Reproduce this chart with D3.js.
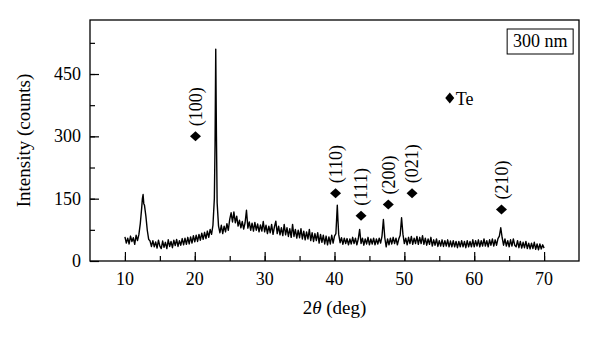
<!DOCTYPE html>
<html>
<head>
<meta charset="utf-8">
<script src="https://cdn.jsdelivr.net/npm/d3@7"></script>
<style>
  body { margin: 0; background: #fff; }
  text { font-family: "Liberation Serif", "Times New Roman", serif; fill: #000; }
</style>
</head>
<body>
<div id="chart"></div>
<script>
// XRD pattern, [2theta, intensity]
const pattern = [
  [10.0,58],[10.2,43],[10.4,55],[10.6,41],[10.8,60],[11.0,47],[11.2,56],[11.4,40],[11.6,62],[11.8,49],
  [12.0,64],[12.2,90],[12.4,128],[12.5,150],[12.6,160],[12.7,138],[12.8,134],[13.0,108],[13.2,74],[13.4,52],
  [13.6,48],[13.8,35],[14.0,49],[14.2,34],[14.4,46],[14.6,31],[14.8,50],[15.0,36],[15.2,30],[15.4,48],
  [15.6,33],[15.8,45],[16.0,30],[16.2,51],[16.4,35],[16.6,47],[16.8,32],[17.0,50],[17.2,37],[17.4,52],
  [17.6,35],[17.8,49],[18.0,38],[18.2,54],[18.4,39],[18.6,55],[18.8,40],[19.0,57],[19.2,41],[19.4,58],
  [19.6,43],[19.8,61],[20.0,46],[20.2,62],[20.4,47],[20.6,64],[20.8,50],[21.0,67],[21.2,52],[21.4,69],
  [21.6,54],[21.8,72],[22.0,57],[22.2,76],[22.4,64],[22.6,86],[22.8,150],[22.9,280],[23.0,510],[23.1,300],
  [23.2,140],[23.4,84],[23.6,68],[23.8,86],[24.0,66],[24.2,84],[24.4,70],[24.6,90],[24.8,74],[25.0,100],
  [25.2,116],[25.4,94],[25.6,118],[25.8,92],[26.0,108],[26.2,84],[26.4,98],[26.6,80],[26.8,95],[27.0,77],
  [27.2,92],[27.4,122],[27.6,79],[27.8,94],[28.0,74],[28.2,91],[28.4,72],[28.6,93],[28.8,74],[29.0,89],
  [29.2,70],[29.4,87],[29.6,72],[29.8,95],[30.0,70],[30.2,86],[30.4,66],[30.6,84],[30.8,68],[31.0,88],
  [31.2,64],[31.4,82],[31.6,96],[31.8,66],[32.0,84],[32.2,63],[32.4,80],[32.6,61],[32.8,88],[33.0,63],
  [33.2,80],[33.4,59],[33.6,78],[33.8,57],[34.0,88],[34.2,59],[34.4,76],[34.6,55],[34.8,74],[35.0,56],
  [35.2,78],[35.4,53],[35.6,72],[35.8,51],[36.0,70],[36.2,53],[36.4,76],[36.6,49],[36.8,68],[37.0,47],
  [37.2,66],[37.4,49],[37.6,68],[37.8,43],[38.0,64],[38.2,45],[38.4,62],[38.6,41],[38.8,60],[39.0,39],
  [39.2,58],[39.4,41],[39.6,62],[39.8,43],[40.0,60],[40.2,66],[40.3,100],[40.4,134],[40.5,96],[40.6,64],
  [40.8,44],[41.0,56],[41.2,40],[41.4,55],[41.6,42],[41.8,54],[42.0,39],[42.2,53],[42.4,41],[42.6,57],
  [42.8,42],[43.0,55],[43.2,39],[43.4,53],[43.6,76],[43.8,42],[44.0,55],[44.2,38],[44.4,53],[44.6,41],
  [44.8,57],[45.0,39],[45.2,53],[45.4,41],[45.6,55],[45.8,39],[46.0,53],[46.2,41],[46.4,55],[46.6,43],
  [46.8,60],[47.0,100],[47.2,56],[47.4,34],[47.6,53],[47.8,39],[48.0,55],[48.2,41],[48.4,57],[48.6,42],
  [48.8,55],[49.0,39],[49.2,53],[49.4,62],[49.6,104],[49.8,64],[50.0,42],[50.2,55],[50.4,39],[50.6,57],
  [50.8,42],[51.0,59],[51.2,40],[51.4,55],[51.6,42],[51.8,59],[52.0,40],[52.2,57],[52.4,42],[52.6,61],
  [52.8,40],[53.0,55],[53.2,38],[53.4,53],[53.6,40],[53.8,57],[54.0,36],[54.2,51],[54.4,38],[54.6,53],
  [54.8,35],[55.0,49],[55.2,36],[55.4,51],[55.6,35],[55.8,49],[56.0,36],[56.2,51],[56.4,34],[56.6,48],
  [56.8,34],[57.0,49],[57.2,34],[57.4,47],[57.6,32],[57.8,47],[58.0,34],[58.2,49],[58.4,34],[58.6,47],
  [58.8,32],[59.0,49],[59.2,34],[59.4,47],[59.6,34],[59.8,51],[60.0,34],[60.2,49],[60.4,36],[60.6,51],
  [60.8,34],[61.0,49],[61.2,36],[61.4,53],[61.6,36],[61.8,49],[62.0,34],[62.2,51],[62.4,38],[62.6,53],
  [62.8,36],[63.0,51],[63.2,38],[63.4,54],[63.6,60],[63.8,80],[64.0,56],[64.2,38],[64.4,53],[64.6,36],
  [64.8,49],[65.0,34],[65.2,51],[65.4,36],[65.6,53],[65.8,38],[66.0,34],[66.2,49],[66.4,32],[66.6,47],
  [66.8,31],[67.0,45],[67.2,32],[67.4,47],[67.6,30],[67.8,43],[68.0,29],[68.2,43],[68.4,30],[68.6,45],
  [68.8,28],[69.0,41],[69.2,27],[69.4,41],[69.6,29],[69.8,39],[70.0,31]
];

// Te reflections
const hklLabels = ["(100)", "(110)", "(111)", "(200)", "(021)", "(210)"];
const hklAngle  = [20.1, 40.15, 43.8, 47.7, 51.1, 63.9];
const hklLevel  = [300, 163, 109, 136, 163, 124];

const xTicks = [10, 20, 30, 40, 50, 60, 70];
const yTicks = [0, 150, 300, 450];

const totalW = 600, totalH = 344;
const margin = {top: 20, right: 21, bottom: 83, left: 90};
const width = totalW - margin.left - margin.right;
const height = totalH - margin.top - margin.bottom;

const svgRoot = d3.select("#chart").append("svg")
    .attr("width", totalW)
    .attr("height", totalH);

const svg = svgRoot.append("g")
    .attr("transform", `translate(${margin.left}, ${margin.top})`);

const x = d3.scaleLinear().domain([5, 75]).range([0, width]);
const y = d3.scaleLinear().domain([0, 580]).range([height, 0]);

// minor ticks (inside)
svg.append("g")
    .attr("transform", `translate(0, ${height})`)
    .call(d3.axisTop(x).tickValues(d3.range(10, 75, 5)).tickSize(5).tickFormat(""))
    .call(g => g.select(".domain").remove());
svg.append("g")
    .call(d3.axisRight(y).tickValues(d3.range(75, 580, 75)).tickSize(5).tickFormat(""))
    .call(g => g.select(".domain").remove());

// major ticks (inside)
svg.append("g")
    .attr("transform", `translate(0, ${height})`)
    .call(d3.axisTop(x).tickValues(xTicks).tickSize(9).tickFormat(""))
    .call(g => g.select(".domain").remove());
svg.append("g")
    .call(d3.axisRight(y).tickValues(yTicks).tickSize(9).tickFormat(""))
    .call(g => g.select(".domain").remove());

svg.selectAll(".tick line").attr("stroke", "#000").attr("stroke-width", 1.2);

svg.selectAll(".xlab")
    .data(xTicks)
    .enter().append("text")
    .attr("x", d => x(d))
    .attr("y", height + 24)
    .attr("text-anchor", "middle")
    .attr("font-size", "18px")
    .text(d => d);

svg.selectAll(".ylab")
    .data(yTicks)
    .enter().append("text")
    .attr("x", -9)
    .attr("y", d => y(d))
    .attr("dy", "0.34em")
    .attr("text-anchor", "end")
    .attr("font-size", "18px")
    .text(d => d);

// frame
svg.append("rect")
    .attr("width", width)
    .attr("height", height)
    .attr("fill", "none")
    .attr("stroke", "#000")
    .attr("stroke-width", 1.3);

// data line
svg.append("path")
    .datum(pattern)
    .attr("fill", "none")
    .attr("stroke", "#000")
    .attr("stroke-width", 1.4)
    .attr("stroke-linejoin", "round")
    .attr("d", d3.line().x(d => x(d[0])).y(d => y(d[1])));

// diamond marker
const diamond = (w, h) => `M0,${-h}L${w},0L0,${h}L${-w},0Z`;

svg.selectAll(".hkl-mark")
    .data(hklAngle)
    .enter().append("path")
    .attr("d", diamond(5.5, 5))
    .attr("transform", (d, i) => `translate(${x(d)}, ${y(hklLevel[i])})`)
    .attr("fill", "#000");

svg.selectAll(".hkl-text")
    .data(hklLabels)
    .enter().append("text")
    .attr("transform", (d, i) => `translate(${x(hklAngle[i])}, ${y(hklLevel[i]) - 10}) rotate(-90)`)
    .attr("dy", "0.35em")
    .attr("font-size", "18px")
    .text(d => d);

// legend
svg.append("path")
    .attr("d", diamond(4.5, 5.5))
    .attr("transform", `translate(${x(56.5)}, ${y(392)})`)
    .attr("fill", "#000");
svg.append("text")
    .attr("x", x(56.5) + 6)
    .attr("y", y(392))
    .attr("dy", "0.36em")
    .attr("font-size", "18px")
    .text("Te");

// sample box
const boxX = x(71.8) + 4.5, boxY = 9;
svg.append("rect")
    .attr("x", boxX - 54)
    .attr("y", boxY)
    .attr("width", 66)
    .attr("height", 25)
    .attr("fill", "none")
    .attr("stroke", "#000")
    .attr("stroke-width", 1);
svg.append("text")
    .attr("x", boxX - 21)
    .attr("y", boxY + 18)
    .attr("text-anchor", "middle")
    .attr("font-size", "18px")
    .text("300 nm");

// axis titles
const xTitle = svg.append("text")
    .attr("x", width / 2)
    .attr("y", height + 53)
    .attr("text-anchor", "middle")
    .attr("font-size", "19px");
xTitle.append("tspan").text("2");
xTitle.append("tspan").attr("font-style", "italic").text("θ");
xTitle.append("tspan").text(" (deg)");

svg.append("text")
    .attr("transform", `translate(-60, ${height / 2}) rotate(-90)`)
    .attr("text-anchor", "middle")
    .attr("font-size", "19px")
    .text("Intensity (counts)");
</script>
</body>
</html>
